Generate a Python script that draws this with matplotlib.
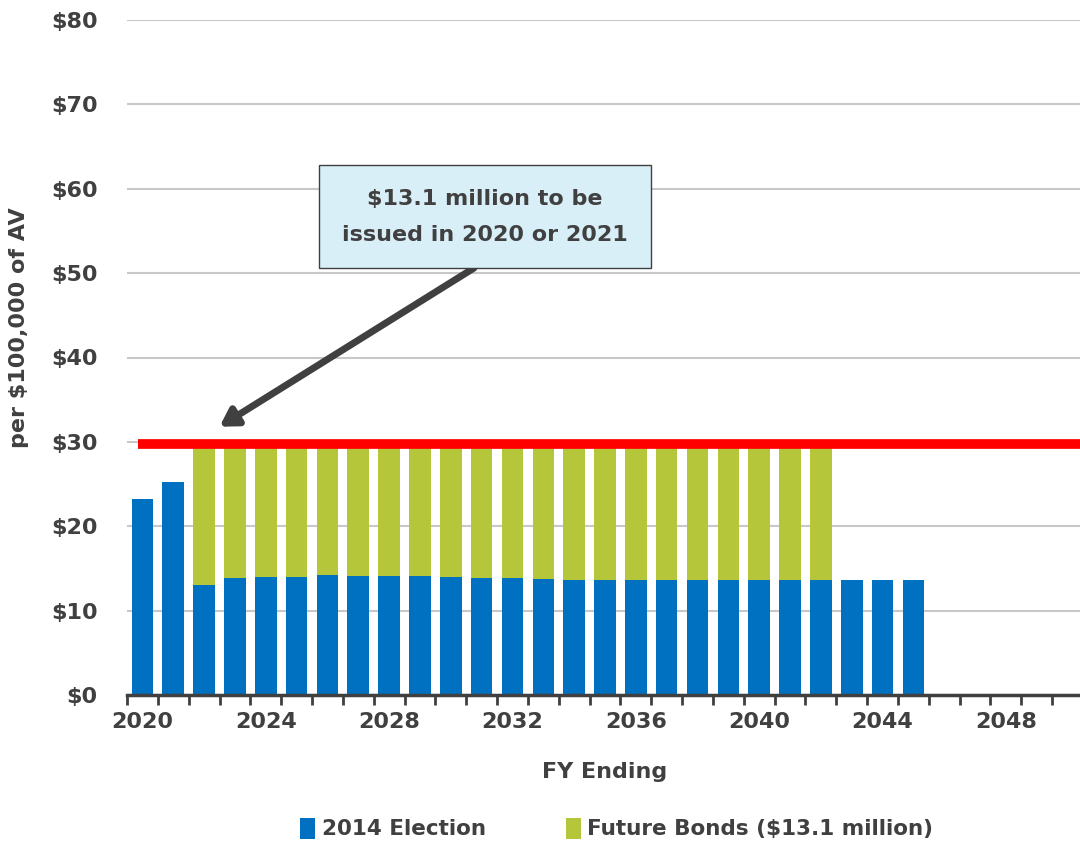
import numpy as np
import matplotlib
matplotlib.use('Agg')
import matplotlib.pyplot as plt
from matplotlib.patches import Rectangle

plt.rcParams['font.family'] = ['DejaVu Sans']
plt.rcParams['font.weight'] = 'bold'
plt.rcParams['axes.labelweight'] = 'bold'

# Data
years = list(range(2020, 2051))
election_2014 = [23.2, 25.2, 13.0, 13.9, 14.0, 14.0, 14.2, 14.1, 14.1, 14.1, 14.0,
                 13.9, 13.9, 13.7, 13.6, 13.6, 13.6, 13.6, 13.6, 13.6, 13.6, 13.6,
                 13.6, 13.6, 13.6, 13.6, 0, 0, 0, 0, 0]
tax_limit = 29.6
future_bonds = [0, 0] + [round(tax_limit - v, 1) for v in election_2014[2:23]] + [0] * 8
limit_line = 29.8

blue = '#0070c0'
green = '#b5c63a'
text_col = '#404040'

fig = plt.figure(figsize=(10.8, 8.43), dpi=100)
ax = fig.add_axes([127 / 1080, 148 / 843, 956 / 1080, 675 / 843])

x = np.arange(len(years))
ax.bar(x, election_2014, width=0.7, color=blue, label='2014 Election', zorder=2)
ax.bar(x, future_bonds, width=0.7, bottom=election_2014, color=green,
       label='Future Bonds ($13.1 million)', zorder=2)
ax.hlines(limit_line, -0.15, len(years) - 0.5, color='#ff0000', lw=7, zorder=3)

ax.set_xlim(-0.5, len(years) - 0.5)
ax.set_ylim(0, 80)
ax.set_yticks(range(0, 81, 10))
ax.set_yticklabels(['$%d' % v for v in range(0, 81, 10)], fontsize=16, color=text_col)
ax.grid(axis='y', color='#c8c8c8', lw=1.5, zorder=0)
ax.tick_params(axis='y', length=0, pad=21)

ax.set_xticks(x[::4])
ax.set_xticklabels([str(y) for y in years[::4]], fontsize=16, color=text_col)
ax.set_xticks(np.arange(-0.5, len(years), 1), minor=True)
ax.tick_params(axis='x', which='major', length=0, pad=12)
ax.tick_params(axis='x', which='minor', length=7, width=2, color=text_col)

for s in ['top', 'right', 'left']:
    ax.spines[s].set_visible(False)
ax.spines['bottom'].set_color(text_col)
ax.spines['bottom'].set_linewidth(2.5)

ax.set_xlabel('FY Ending', fontsize=16, color=text_col, labelpad=22)
ax.set_ylabel('per $100,000 of AV', fontsize=16, color=text_col)
ax.yaxis.set_label_coords(-0.103, 0.545)

# callout box and arrow
ax.add_patch(Rectangle((5.71, 50.6), 10.78, 12.2, fc='#d9eff8', ec='#404040',
                       lw=1, zorder=6))
ax.text(11.1, 56.6, '$13.1 million to be\nissued in 2020 or 2021', ha='center', va='center',
        fontsize=16, color=text_col, linespacing=2.0, zorder=7)
ax.annotate('', xy=(2.5, 31.8), xytext=(10.75, 50.6),
            arrowprops=dict(arrowstyle='-|>,head_length=1.0,head_width=0.6',
                            color='#404040', lw=5, shrinkA=0, shrinkB=0), zorder=5)

fig.legend(loc='center', bbox_to_anchor=(0.571, 0.017), ncol=2, frameon=False,
           fontsize=15.5, handlelength=0.7, handleheight=1.1, handletextpad=0.3,
           columnspacing=3.7, labelcolor=text_col)

fig.savefig('out.png', dpi=100)
